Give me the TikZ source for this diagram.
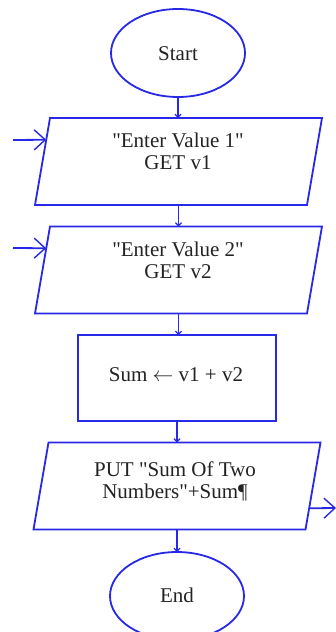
\documentclass[tikz,border=0pt]{standalone}
\usepackage{fontspec}
\newfontfamily\flowfont{Liberation Serif}
\usetikzlibrary{arrows.meta,calc,shapes.geometric}
\definecolor{flowblue}{RGB}{40,40,232}
\definecolor{inktext}{RGB}{35,35,35}
\begin{document}
\begin{tikzpicture}[x=1pt,y=-1pt,
  every node/.style={inner sep=0pt, outer sep=0pt},
  outline/.style={draw=flowblue, line width=1.8pt},
  terminal/.style={outline, ellipse, minimum width=134pt, minimum height=88pt},
  iobox/.style={rectangle, minimum width=272pt, minimum height=87pt},
  process/.style={outline, rectangle, minimum width=198pt, minimum height=86pt},
  txt/.style={font=\flowfont\fontsize{21}{22}\selectfont, text=inktext, align=center},
  flow/.style={draw=flowblue, line width=1.8pt,
    -{Straight Barb[length=3pt,width=6pt,line width=1.2pt]}},
  sideflow/.style={draw=flowblue, line width=1.8pt,
    -{Straight Barb[length=11pt,width=20pt,line width=1.4pt]}},
]
\fill[white] (0,0) rectangle (335,632);
\useasboundingbox (0,0) rectangle (335,632);

% shapes
\node[terminal] (start) at (178,53) {};
\node[txt] (starttxt) at (178,54) {Start};

\node[iobox] (in1) at (178.5,161.5) {};
\node[txt] (in1txt) at (178,151) {"Enter Value 1"\\GET v1};

\node[iobox] (in2) at (178.5,270) {};
\node[txt] (in2txt) at (178,260) {"Enter Value 2"\\GET v2};

\node[process] (calc) at (177,378) {};
\node[txt] (calctxt) at (176,375) {Sum $\leftarrow$ v1 + v2};

\node[iobox] (out) at (177,486) {};
\node[txt] (outtxt) at (175,481) {PUT "Sum Of Two\\Numbers"+Sum¶};

\node[terminal] (end) at (177,596) {};
\node[txt] (endtxt) at (177,595) {End};

% parallelogram outlines of the input/output boxes
\foreach \b in {in1,in2,out}{
  \coordinate (\b-tl) at ([xshift=7.5pt]\b.north west);
  \coordinate (\b-tr) at ([xshift=7.5pt]\b.north east);
  \coordinate (\b-br) at ([xshift=-7.5pt]\b.south east);
  \coordinate (\b-bl) at ([xshift=-7.5pt]\b.south west);
  \draw[outline, line join=miter] (\b-tl) -- (\b-tr) -- (\b-br) -- (\b-bl) -- cycle;
}

% side entry and exit points
\coordinate (in1src) at (13,140);
\coordinate (in2src) at (13,248);
\coordinate (outdst) at (336,508);
\coordinate (in1port) at ($(in1-tl)!0.25!(in1-bl)$);
\coordinate (in2port) at ($(in2-tl)!0.25!(in2-bl)$);
\coordinate (outport) at ($(out-tr)!0.756!(out-br)$);

% connectors
\draw[flow] (start.south) -- (start.south |- in1.north);
\draw[flow] (in1.south) -- (in1.south |- in2.north);
\draw[flow] (in2.south) -- (in2.south |- calc.north);
\draw[flow] (calc.south) -- (calc.south |- out.north);
\draw[flow] (out.south) -- (out.south |- end.north);
\draw[sideflow] (in1src) -- (in1port);
\draw[sideflow] (in2src) -- (in2port);
\draw[sideflow] (outport) -- (outdst);
\end{tikzpicture}
\end{document}
